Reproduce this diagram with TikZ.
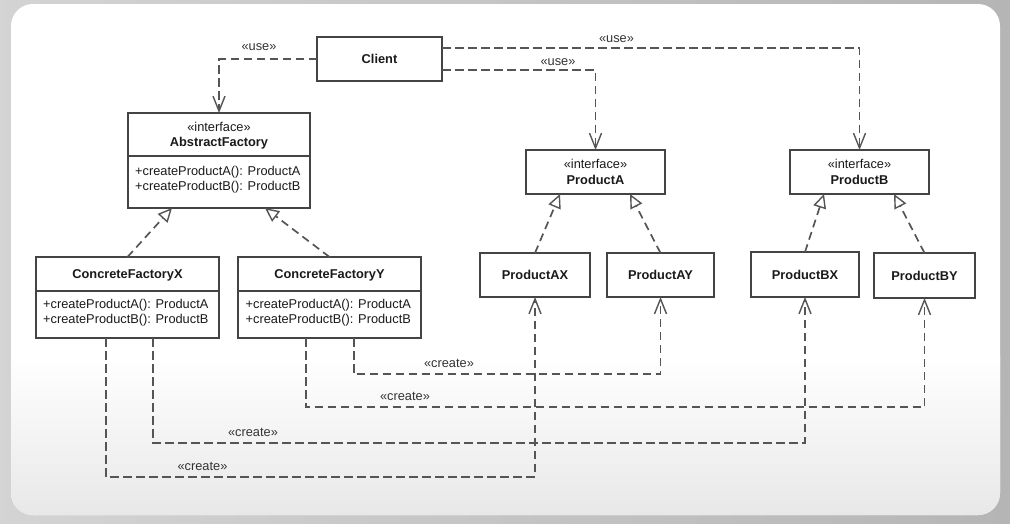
\documentclass[tikz,border=0pt]{standalone}
\usepackage{fontspec}
\setmainfont{Liberation Sans}
\usetikzlibrary{arrows.meta,calc}
\definecolor{boxc}{HTML}{444444}
\definecolor{linec}{HTML}{555555}
\definecolor{txtc}{HTML}{1A1A1A}
\definecolor{lblc}{HTML}{333333}
\newcommand{\fs}{\fontsize{12.8}{15}\selectfont}
\tikzset{
  umlbox/.style={draw=boxc, line width=1.7pt, fill=white, inner sep=0pt, outer sep=0pt},
  ttl/.style={font=\fs\bfseries, text=txtc, inner sep=0pt},
  txt/.style={font=\fs, text=txtc, inner sep=0pt, anchor=base},
  txtl/.style={font=\fs, text=txtc, inner sep=0pt, anchor=base west},
  lbl/.style={font=\fs, text=lblc, inner sep=0pt, anchor=base},
  dep/.style={draw=linec, line width=1.8pt, dash pattern=on 8.5pt off 4.5pt,
    -{Straight Barb[length=15pt,width=12pt,line width=1.4pt]}},
  real/.style={draw=linec, line width=1.7pt, dash pattern=on 8pt off 5pt,
    -{Triangle[length=14pt,width=13pt,fill=white,line width=1.4pt]}},
  divline/.style={draw=boxc, line width=1.7pt}
}
\begin{document}
\begin{tikzpicture}[x=1pt,y=-1pt]
\useasboundingbox (0,0) rectangle (1010,523);
% background
\shade[left color=black!17, right color=black!29] (0,0) rectangle (1010,523);
\fill[white, rounded corners=22pt] (11,4) rectangle (1000,515);
\begin{scope}
  \clip[rounded corners=22pt] (11,4) rectangle (1000,515);
  \shade[top color=white, bottom color=black!9] (0,355) rectangle (1010,515);
\end{scope}

% boxes
\node[umlbox, minimum width=125pt, minimum height=44pt] (client) at (379.5,59) {};
\node[ttl] (clientT) at (client.center) {Client};

\node[umlbox, minimum width=182pt, minimum height=95pt] (af) at (219,160.5) {};
\draw[divline] (af.west |- 0,156) -- (af.east |- 0,156);
\node[txt] (afS) at (219,131) {«interface»};
\node[ttl, anchor=base] (afT) at (219,146.5) {AbstractFactory};
\node[txtl] (afM1) at (135,175) {+createProductA(): ProductA};
\node[txtl] (afM2) at (135,190.5) {+createProductB(): ProductB};

\node[umlbox, minimum width=139pt, minimum height=44pt] (pa) at (595.5,172) {};
\node[txt] (paS) at (595.5,168.5) {«interface»};
\node[ttl, anchor=base] (paT) at (595.5,184) {ProductA};

\node[umlbox, minimum width=139pt, minimum height=44pt] (pb) at (859.5,172) {};
\node[txt] (pbS) at (859.5,168.5) {«interface»};
\node[ttl, anchor=base] (pbT) at (859.5,184) {ProductB};

\node[umlbox, minimum width=183pt, minimum height=81pt] (cfx) at (127.5,297.5) {};
\draw[divline] (cfx.west |- 0,291) -- (cfx.east |- 0,291);
\node[ttl, anchor=base] (cfxT) at (127.5,278.7) {ConcreteFactoryX};
\node[txtl] (cfxM1) at (43,308) {+createProductA(): ProductA};
\node[txtl] (cfxM2) at (43,323.5) {+createProductB(): ProductB};

\node[umlbox, minimum width=183pt, minimum height=81pt] (cfy) at (329.5,297.5) {};
\draw[divline] (cfy.west |- 0,291) -- (cfy.east |- 0,291);
\node[ttl, anchor=base] (cfyT) at (329.5,278.7) {ConcreteFactoryY};
\node[txtl] (cfyM1) at (245.5,308) {+createProductA(): ProductA};
\node[txtl] (cfyM2) at (245.5,323.5) {+createProductB(): ProductB};

\node[umlbox, minimum width=110pt, minimum height=44pt] (ax) at (535,275) {};
\node[ttl] (axT) at (ax.center) {ProductAX};
\node[umlbox, minimum width=107pt, minimum height=44pt] (ay) at (660.5,275) {};
\node[ttl] (ayT) at (ay.center) {ProductAY};
\node[umlbox, minimum width=108pt, minimum height=45pt] (bx) at (805,274.5) {};
\node[ttl] (bxT) at (bx.center) {ProductBX};
\node[umlbox, minimum width=101pt, minimum height=45pt] (by) at (924.5,275.5) {};
\node[ttl] (byT) at (by.center) {ProductBY};

% use dependencies
\draw[dep] (client.west) -| (af.north);
\node[lbl] (u1) at (259,50) {«use»};
\draw[dep] ($(client.north east)+(0,11)$) -| (pb.north);
\node[lbl] (u2) at (616.5,42.7) {«use»};
\draw[dep] ($(client.south east)+(0,-11)$) -| (pa.north);
\node[lbl] (u3) at (558,65) {«use»};

% realizations
\draw[real] (cfx.north) -- ($(af.south)+(-47,0)$);
\draw[real] (cfy.north) -- ($(af.south)+(46,0)$);
\draw[real] (ax.north) -- ($(pa.south)+(-35.5,0)$);
\draw[real] (ay.north) -- ($(pa.south)+(34.5,0)$);
\draw[real] (bx.north) -- ($(pb.south)+(-35.5,0)$);
\draw[real] (by.north) -- ($(pb.south)+(34.5,0)$);

% create dependencies
\draw[dep] ($(cfy.south)+(24.5,0)$) -- ++(0,36.3) -| (ay.south);
\node[lbl] (c1) at (449,367.7) {«create»};
\draw[dep] ($(cfy.south)+(-23.5,0)$) -- ++(0,69.3) -| (by.south);
\node[lbl] (c2) at (405,400) {«create»};
\draw[dep] ($(cfx.south)+(25.5,0)$) -- ++(0,104.7) -| (bx.south);
\node[lbl] (c3) at (253,436.7) {«create»};
\draw[dep] ($(cfx.south)+(-21.5,0)$) -- ++(0,138.7) -| (ax.south);
\node[lbl] (c4) at (202.5,470) {«create»};
\end{tikzpicture}
\end{document}
